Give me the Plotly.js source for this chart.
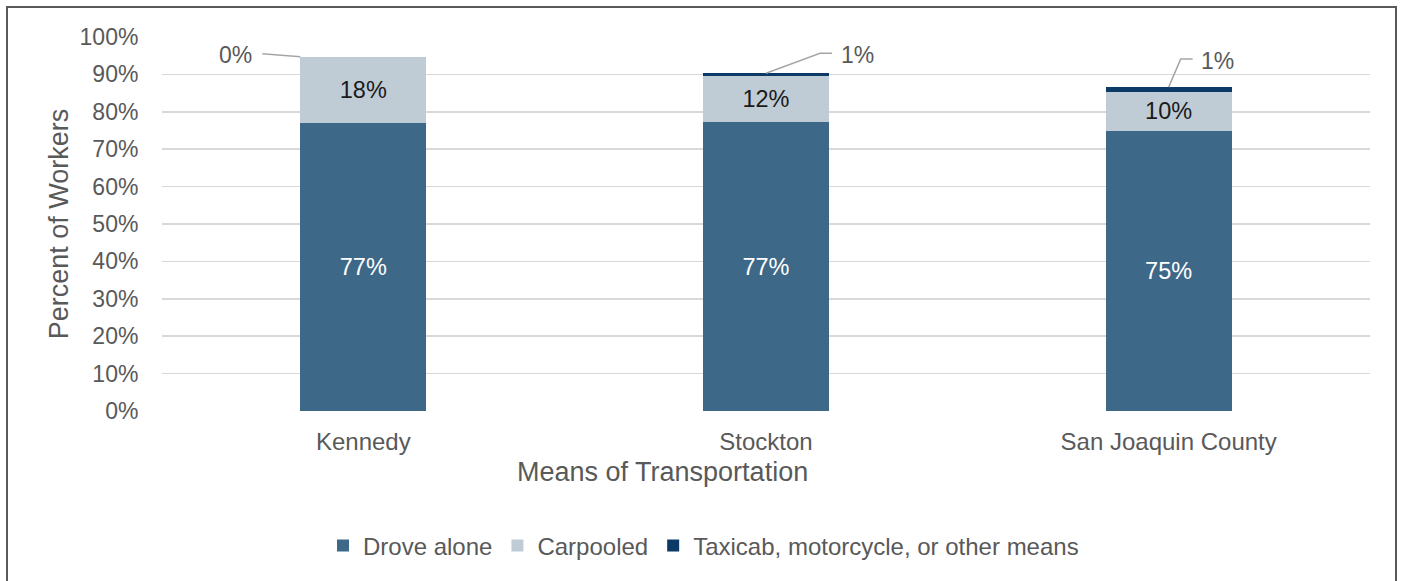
<!DOCTYPE html>
<html>
<head>
<meta charset="utf-8">
<script src="https://cdn.plot.ly/plotly-3.0.1.min.js"></script>
<style>
  html, body { margin: 0; padding: 0; background: #fff; }
  #wrap { position: relative; width: 1407px; height: 581px; overflow: hidden; }
  #chart { position: absolute; left: 0; top: 0; width: 1407px; height: 581px; }
  #frame { position: absolute; left: 6px; top: 6px; width: 1391px; height: 620px;
           border: 2px solid #595959; box-sizing: border-box; pointer-events: none; }
</style>
</head>
<body>
<div id="wrap">
  <div id="chart"></div>
  <div id="frame"></div>
</div>
<script>
const categories = ["Kennedy", "Stockton", "San Joaquin County"];
const droveAlone = [77.1, 77.2, 75.0];
const carpooled = [17.6, 12.4, 10.4];
const otherMeans = [0.0, 0.7, 1.2];
const seriesNames = ["Drove alone", "Carpooled", "Taxicab, motorcycle, or other means"];
const yTickValues = [0, 10, 20, 30, 40, 50, 60, 70, 80, 90, 100];
const xTitle = "Means of Transportation";
const yTitle = "Percent of Workers";

const FONT = "Liberation Sans, Arial, sans-serif";
const GRAY = "#595959";

const traces = [
  {
    type: "bar", name: seriesNames[0], x: categories, y: droveAlone,
    marker: { color: "#3E6887" },
    texttemplate: "%{y:.0f}%", textposition: "inside", insidetextanchor: "middle",
    textfont: { family: FONT, size: 23.5, color: "#ffffff" }, hoverinfo: "skip"
  },
  {
    type: "bar", name: seriesNames[1], x: categories, y: carpooled,
    marker: { color: "#BFCCD6" },
    texttemplate: "%{y:.0f}%", textposition: "inside", insidetextanchor: "middle",
    textfont: { family: FONT, size: 23.5, color: "#1a1a1a" }, hoverinfo: "skip"
  },
  {
    type: "bar", name: seriesNames[2], x: categories, y: otherMeans,
    marker: { color: "#0B3A66" },
    textposition: "none", hoverinfo: "skip"
  }
];

// leader-line callouts for the small "other means" segment
const totals = categories.map((c, i) => droveAlone[i] + carpooled[i] + otherMeans[i]);
const callouts = [
  { path: "M -63,0 L -101,3", tx: -128, ty: 2 },
  { path: "M 0,0 L 54,20 L 66,20", tx: 91, ty: 18 },
  { path: "M 0,0 L 12,28 L 24,28", tx: 49, ty: 26 }
];
const shapes = callouts.map((c, i) => ({
  type: "path", xref: "x", yref: "y",
  xsizemode: "pixel", ysizemode: "pixel",
  xanchor: i, yanchor: totals[i],
  path: c.path,
  line: { color: "#A6A6A6", width: 1.5 }
}));
const annotations = callouts.map((c, i) => ({
  xref: "x", yref: "y", x: i, y: totals[i],
  xshift: c.tx, yshift: c.ty,
  text: Math.round(otherMeans[i]) + "%",
  showarrow: false,
  font: { family: FONT, size: 23, color: GRAY }
}));
annotations.push({
  xref: "paper", yref: "paper", x: 0.414, y: -0.163, xanchor: "center", yanchor: "middle",
  text: xTitle, showarrow: false,
  font: { family: FONT, size: 27, color: GRAY }
});

const layout = {
  width: 1407, height: 581,
  margin: { l: 162, r: 37, t: 37, b: 170 },
  paper_bgcolor: "#ffffff", plot_bgcolor: "#ffffff",
  barmode: "stack", bargap: 0.687,
  showlegend: true,
  font: { family: FONT, color: GRAY },
  xaxis: {
    type: "category",
    tickfont: { family: FONT, size: 24, color: GRAY },
    ticks: "outside", ticklen: 9, tickcolor: "rgba(0,0,0,0)",
    showgrid: false, showline: false, zeroline: false
  },
  yaxis: {
    range: [0, 100], tickvals: yTickValues, ticktext: yTickValues.map(v => v + "%"),
    tickfont: { family: FONT, size: 23, color: GRAY },
    ticks: "outside", ticklen: 18, tickcolor: "rgba(0,0,0,0)",
    showgrid: true, gridcolor: "#D9D9D9", gridwidth: 1.5,
    showline: false, zeroline: false,
    title: { text: yTitle, font: { family: FONT, size: 27, color: GRAY }, standoff: 3 }
  },
  legend: {
    orientation: "h", traceorder: "normal", xref: "container", yref: "container",
    x: 0.5, xanchor: "center", y: 1 - 546 / 581, yanchor: "middle",
    font: { family: FONT, size: 24, color: GRAY },
    itemclick: false, itemdoubleclick: false
  },
  shapes: shapes,
  annotations: annotations
};

Plotly.newPlot("chart", traces, layout, { displayModeBar: false, staticPlot: true });
</script>
</body>
</html>
